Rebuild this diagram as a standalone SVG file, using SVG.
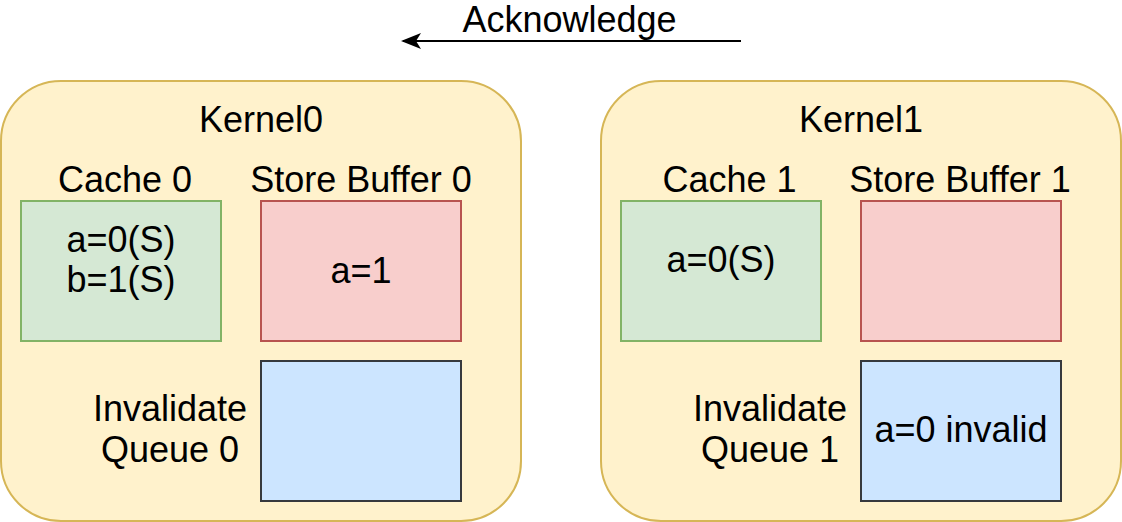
<svg xmlns="http://www.w3.org/2000/svg" width="1122" height="522" viewBox="0 0 1122 522">
<style>
text{font-family:"Liberation Sans",Arial,sans-serif;font-size:36px;fill:#000;text-anchor:middle}
.kernel{fill:#fff2cc;stroke:#d6b656;stroke-width:2}
.cache{fill:#d5e8d4;stroke:#82b366;stroke-width:2}
.sb{fill:#f8cecc;stroke:#b85450;stroke-width:2}
.iq{fill:#cce5ff;stroke:#36393d;stroke-width:2}
</style>
<defs>
<marker id="arr" viewBox="0 0 20 16" refX="18" refY="8" markerWidth="20" markerHeight="16" markerUnits="userSpaceOnUse" orient="auto">
<path d="M0,0 L20,8 L0,16 L5,8 Z" fill="#000"/>
</marker>
</defs>
<g id="connectors">
<line x1="741" y1="41" x2="403" y2="41" stroke="#000" stroke-width="2" marker-end="url(#arr)"/>
<text x="569.5" y="32">Acknowledge</text>
</g>
<g id="kernel0">
<rect class="kernel" x="1" y="81" width="520" height="440" rx="60" ry="60"/>
<text x="261" y="132">Kernel0</text>
</g>
<g id="cache0">
<text x="125" y="192">Cache 0</text>
<rect class="cache" x="21" y="201" width="200" height="140"/>
<text x="121" y="252">a=0(S)</text>
<text x="121" y="292">b=1(S)</text>
</g>
<g id="storebuffer0">
<text x="361" y="192">Store Buffer 0</text>
<rect class="sb" x="261" y="201" width="200" height="140"/>
<text x="361" y="283">a=1</text>
</g>
<g id="invalidatequeue0">
<text x="170" y="421">Invalidate</text>
<text x="170" y="462">Queue 0</text>
<rect class="iq" x="261" y="361" width="200" height="140"/>
</g>
<g id="kernel1">
<rect class="kernel" x="601" y="81" width="520" height="440" rx="60" ry="60"/>
<text x="861" y="132">Kernel1</text>
</g>
<g id="cache1">
<text x="729.5" y="192">Cache 1</text>
<rect class="cache" x="621" y="201" width="200" height="140"/>
<text x="721" y="272">a=0(S)</text>
</g>
<g id="storebuffer1">
<text x="960" y="192">Store Buffer 1</text>
<rect class="sb" x="861" y="201" width="200" height="140"/>
</g>
<g id="invalidatequeue1">
<text x="770" y="421">Invalidate</text>
<text x="770" y="462">Queue 1</text>
<rect class="iq" x="861" y="361" width="200" height="140"/>
<text x="961" y="442">a=0 invalid</text>
</g>
</svg>
